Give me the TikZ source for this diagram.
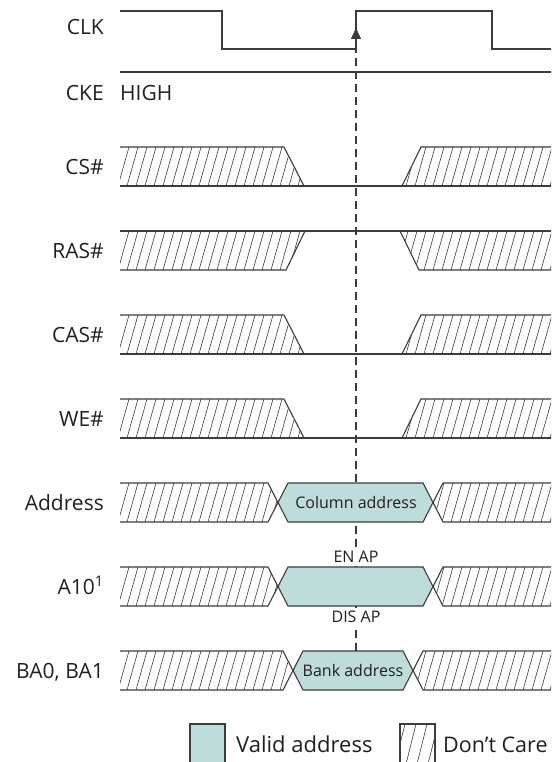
\documentclass[tikz,border=0pt]{standalone}
\usepackage{fontspec}
\setmainfont{Open Sans}
\usetikzlibrary{arrows.meta}
\definecolor{validfill}{RGB}{190,221,218}
\definecolor{wavecol}{RGB}{60,60,60}
\definecolor{textcol}{RGB}{35,31,32}
\tikzset{
  wave/.style={draw=wavecol, line width=1.1pt, line join=miter},
  hatchline/.style={draw=wavecol, line width=0.6pt},
  lbl/.style={anchor=base east, inner sep=0pt, text=textcol, font=\fontsize{21}{25}\selectfont},
  small/.style={inner sep=0pt, text=textcol, font=\fontsize{16}{19}\selectfont},
}
% don't care hatching: #1 closed path, #2 top y, #3 height
\newcommand{\hatchin}[3]{%
  \begin{scope}
    \clip #1;
    \foreach \x in {100,109,...,570}
      \draw[hatchline] (\x,#2+#3) -- (\x+11,#2);
  \end{scope}}

\begin{document}
\begin{tikzpicture}[x=1pt, y=-1pt]
\useasboundingbox (0,0) rectangle (551,762);
\clip (0,0) rectangle (551,762);

% signal names
\node[lbl] (clk) at (104,35) {CLK};
\node[lbl] (cke) at (104,100.5) {CKE};
\node[lbl, anchor=base west] (high) at (120,100.5) {HIGH};
\foreach \t/\n/\s in {147/cs/CS\#, 231/ras/RAS\#, 315/cas/CAS\#, 399/we/WE\#, 483/addr/Address, 567/aten/A10\textsuperscript{1}, 651/ba/{BA0, BA1}}
  \node[lbl] (\n) at (104,\t+27.5) {\s};

% clock and clock enable
\draw[wave] (120,11) -- (222,11) -- (222,49) -- (356,49) -- (356,11) -- (492,11) -- (492,49) -- (560,49);
\draw[wave] (120,72) -- (560,72);

\coordinate (edge) at (356,28);
\coordinate (bank) at (356,651);
\draw[wavecol, line width=1.1pt, dash pattern=on 8pt off 5pt, -{Triangle[length=11pt,width=10pt]}] (bank) -- (edge);

% CS#, CAS#, WE#
\foreach \t in {147,315,399} {
  \hatchin{(120,\t) -- (284,\t) -- (304,\t+39) -- (120,\t+39) -- cycle}{\t}{39}
  \hatchin{(402,\t+39) -- (421,\t) -- (560,\t) -- (560,\t+39) -- cycle}{\t}{39}
  \draw[wave] (120,\t) -- (284,\t) -- (304,\t+39);
  \draw[wave] (120,\t+39) -- (560,\t+39);
  \draw[wave] (402,\t+39) -- (421,\t) -- (560,\t);
}

% RAS#
\hatchin{(120,231) -- (305,231) -- (286,270) -- (120,270) -- cycle}{231}{39}
\hatchin{(400,231) -- (419,270) -- (560,270) -- (560,231) -- cycle}{231}{39}
\draw[wave] (120,231) -- (560,231);
\draw[wave] (120,270) -- (286,270) -- (305,231);
\draw[wave] (400,231) -- (419,270) -- (560,270);

% address, A10, bank
\foreach \t/\a/\b in {483/278/433, 567/278/433, 651/293/413} {
  \hatchin{(120,\t) -- (\a-10,\t) -- (\a,\t+19.5) -- (\a-10,\t+39) -- (120,\t+39) -- cycle}{\t}{39}
  \hatchin{(\b+10,\t) -- (\b,\t+19.5) -- (\b+10,\t+39) -- (560,\t+39) -- (560,\t) -- cycle}{\t}{39}
  \draw[wave, fill=validfill] (\a,\t+19.5) -- (\a+10,\t) -- (\b-10,\t) -- (\b,\t+19.5) -- (\b-10,\t+39) -- (\a+10,\t+39) -- cycle;
  \draw[wave] (120,\t) -- (\a-10,\t) -- (\a,\t+19.5) -- (\a-10,\t+39) -- (120,\t+39);
  \draw[wave] (560,\t) -- (\b+10,\t) -- (\b,\t+19.5) -- (\b+10,\t+39) -- (560,\t+39);
}
\node[small] (coladdr) at (356,502.5) {Column address};
\node[small] (bankaddr) at (353,670.5) {Bank address};
\node[small, fill=white, inner sep=3pt] (enap) at (356,557) {EN AP};
\node[small, fill=white, inner sep=3pt] (disap) at (356,617) {DIS AP};

% legend
\draw[wave, fill=validfill] (190,724) rectangle (225,780);
\node[lbl, anchor=base west, font=\fontsize{22}{26}\selectfont] (valid) at (236,752) {Valid address};
\begin{scope}
  \clip (400,724) rectangle (435,780);
  \foreach \x in {380,391,...,440}
    \draw[hatchline] (\x,780) -- (\x+14,724);
\end{scope}
\draw[wave] (400,724) rectangle (435,780);
\node[lbl, anchor=base west, font=\fontsize{21.5}{26}\selectfont] (dontcare) at (443,752) {Don't Care};
\end{tikzpicture}
\end{document}
